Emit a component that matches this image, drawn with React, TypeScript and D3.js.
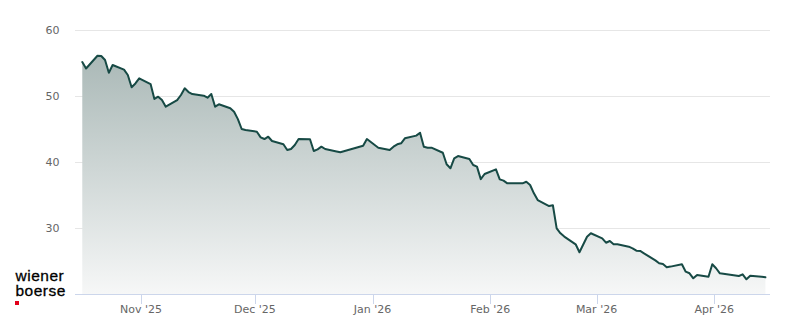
import React from "react";
import * as d3 from "d3";

const dates: string[] = [
  "2025-10-16","2025-10-17","2025-10-20","2025-10-21","2025-10-22","2025-10-23","2025-10-24",
  "2025-10-27","2025-10-28","2025-10-29","2025-10-30","2025-10-31",
  "2025-11-03","2025-11-04","2025-11-05","2025-11-06","2025-11-07",
  "2025-11-10","2025-11-11","2025-11-12","2025-11-13","2025-11-14",
  "2025-11-17","2025-11-18","2025-11-19","2025-11-20","2025-11-21",
  "2025-11-24","2025-11-25","2025-11-26","2025-11-27","2025-11-28",
  "2025-12-01","2025-12-02","2025-12-03","2025-12-04","2025-12-05",
  "2025-12-08","2025-12-09","2025-12-10","2025-12-11","2025-12-12",
  "2025-12-15","2025-12-16","2025-12-17","2025-12-18","2025-12-19",
  "2025-12-22","2025-12-23","2025-12-29","2025-12-30",
  "2026-01-02","2026-01-05","2026-01-06","2026-01-07","2026-01-08","2026-01-09",
  "2026-01-12","2026-01-13","2026-01-14","2026-01-15","2026-01-16",
  "2026-01-19","2026-01-20","2026-01-21","2026-01-22","2026-01-23",
  "2026-01-26","2026-01-27","2026-01-28","2026-01-29","2026-01-30",
  "2026-02-02","2026-02-03","2026-02-04","2026-02-05","2026-02-06",
  "2026-02-09","2026-02-10","2026-02-11","2026-02-12","2026-02-13",
  "2026-02-16","2026-02-17","2026-02-18","2026-02-19","2026-02-20",
  "2026-02-23","2026-02-24","2026-02-25","2026-02-26","2026-02-27",
  "2026-03-02","2026-03-03","2026-03-04","2026-03-05","2026-03-06",
  "2026-03-09","2026-03-10","2026-03-11","2026-03-12","2026-03-13",
  "2026-03-16","2026-03-17","2026-03-18","2026-03-19","2026-03-20",
  "2026-03-23","2026-03-24","2026-03-25","2026-03-26","2026-03-27",
  "2026-03-30","2026-03-31","2026-04-01","2026-04-02",
  "2026-04-07","2026-04-08","2026-04-09","2026-04-10",
  "2026-04-13","2026-04-14",
];

const prices: number[] = [
  55.15, 54.17, 56.1, 56.06, 55.45, 53.53, 54.7,
  54.0, 53.18, 51.32, 51.9, 52.68,
  51.8, 49.55, 49.9, 49.39, 48.38,
  49.39, 50.15, 51.17, 50.6, 50.3,
  50.05, 49.74, 50.3, 48.38, 48.74,
  48.14, 47.62, 46.5, 45.0, 44.85,
  44.59, 43.74, 43.48, 43.83, 43.18,
  42.68, 41.82, 41.97, 42.58, 43.48,
  43.44, 41.67, 41.92, 42.32, 41.97,
  41.6, 41.47, 42.45, 43.48,
  42.17, 41.82, 42.32, 42.68, 42.83, 43.59,
  44.0, 44.44, 42.32, 42.17, 42.17,
  41.4, 39.65, 39.05, 40.56, 40.9,
  40.45, 39.55, 39.3, 37.4, 38.18,
  38.89, 37.37, 37.17, 36.77, 36.77,
  36.77, 37.0, 36.52, 35.25, 34.24,
  33.33, 33.45, 29.95, 29.2, 28.7,
  27.53, 26.32, 27.5, 28.68, 29.2,
  28.44, 27.77, 28.03, 27.53, 27.53,
  27.17, 26.92, 26.56, 26.52, 26.17,
  25.1, 24.65, 24.55, 24.05, 24.15,
  24.5, 23.38, 23.14, 22.38, 22.88,
  22.62, 24.5, 23.9, 23.14,
  22.73, 22.98, 22.23, 22.77,
  22.62, 22.53,
];

const yTicks: number[] = [30, 40, 50, 60];
const yDomain: [number, number] = [20, 60];
const xDomainStart = new Date(2025, 9, 14, 14);
const xDomainEnd = new Date(2026, 3, 15, 17);
const logoLines: string[] = ["wiener", "boerse"];

const W = 800;
const H = 324;
const left = 75;
const right = 770;
const top = 30;
const bottom = 294;

const parse = d3.timeParse("%Y-%m-%d");
const data = dates.map((s, i) => ({
  date: d3.timeHour.offset(parse(s) as Date, 12),
  value: prices[i],
}));

const FONT = "'DejaVu Sans', Verdana, sans-serif";

export default function App() {
  const x = d3.scaleTime().domain([xDomainStart, xDomainEnd]).range([left, right]);
  const y = d3.scaleLinear().domain(yDomain).range([bottom, top]);

  const line = d3
    .line<{ date: Date; value: number }>()
    .x((d) => x(d.date))
    .y((d) => y(d.value));
  const area = d3
    .area<{ date: Date; value: number }>()
    .x((d) => x(d.date))
    .y0(y(yDomain[0]))
    .y1((d) => y(d.value));

  const monthTicks = x.ticks(d3.timeMonth.every(1) as d3.TimeInterval);
  const fmt = d3.timeFormat("%b '%y");

  return (
    <svg
      width={W}
      height={H}
      style={{ position: "absolute", left: 0, top: 0, display: "block" }}
    >
      <rect x={0} y={0} width={W} height={H} fill="#ffffff" />
      <defs>
        <linearGradient
          id="areaGrad"
          gradientUnits="userSpaceOnUse"
          x1={0}
          y1={y(yDomain[1])}
          x2={0}
          y2={y(yDomain[0])}
        >
          <stop offset="0%" stopColor="#a2b2b0" />
          <stop offset="100%" stopColor="#f6f7f7" />
        </linearGradient>
      </defs>

      {yTicks.map((t) => (
        <g key={t}>
          <line
            x1={left}
            x2={right}
            y1={y(t) + 0.5}
            y2={y(t) + 0.5}
            stroke="#e6e6e6"
            strokeWidth={1}
          />
          <text
            x={59.5}
            y={y(t) + 4}
            textAnchor="end"
            fontFamily={FONT}
            fontSize={11}
            fill="#666666"
          >
            {t}
          </text>
        </g>
      ))}

      <path d={area(data) || ""} fill="url(#areaGrad)" />
      <path
        d={line(data) || ""}
        fill="none"
        stroke="#174a45"
        strokeWidth={2}
        strokeLinejoin="round"
        strokeLinecap="round"
      />

      <line
        x1={left}
        x2={right}
        y1={bottom + 0.5}
        y2={bottom + 0.5}
        stroke="#ccd6eb"
        strokeWidth={1}
      />
      {monthTicks.map((t) => (
        <g key={t.toISOString()}>
          <line
            x1={Math.round(x(t)) + 0.5}
            x2={Math.round(x(t)) + 0.5}
            y1={bottom}
            y2={bottom + 10}
            stroke="#ccd6eb"
            strokeWidth={1}
          />
          <text
            x={x(t)}
            y={bottom + 19}
            textAnchor="middle"
            fontFamily={FONT}
            fontSize={11}
            fill="#666666"
          >
            {fmt(t)}
          </text>
        </g>
      ))}

      <g>
        {logoLines.map((s, i) => (
          <text
            key={s}
            x={15.5}
            y={280.5 + i * 15.5}
            fontFamily="'Liberation Sans', Arial, sans-serif"
            fontSize={15.5}
            letterSpacing={0.5}
            fill="#000000"
            stroke="#000000"
            strokeWidth={0.3}
          >
            {s}
          </text>
        ))}
        <rect x={15} y={301} width={4} height={4} fill="#e2001a" />
      </g>
    </svg>
  );
}
